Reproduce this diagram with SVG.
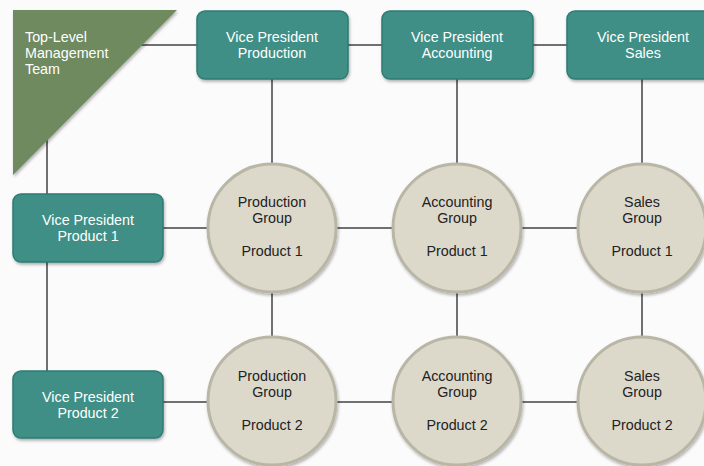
<svg xmlns="http://www.w3.org/2000/svg" width="704" height="466" viewBox="0 0 704 466">
<style>
.bg{fill:#fbfbfb}
.conn line{stroke:#707070;stroke-width:2}
.box{fill:#3f8f86;stroke:#2f7b73;stroke-width:1.5}
.circ{fill:#dcd9cb;stroke:#b9b6a6;stroke-width:3}
.tri{fill:#6f8a5f}
text{font-family:"Liberation Sans",Arial,sans-serif;font-size:14.3px}
.wt{fill:#ffffff;text-anchor:middle}
.dt{fill:#222222;text-anchor:middle}
.tl{fill:#ffffff}
</style>
<defs>
<filter id="sh" x="-20%" y="-20%" width="140%" height="150%">
<feDropShadow dx="1" dy="2" stdDeviation="1.5" flood-color="#000" flood-opacity="0.3"/>
</filter>
</defs>
<rect class="bg" x="0" y="0" width="704" height="466"/>
<g id="connectors" class="conn">
<line x1="130" y1="45" x2="567" y2="45"/>
<line x1="47" y1="130" x2="47" y2="402"/>
<line x1="272" y1="60" x2="272" y2="401"/>
<line x1="457" y1="60" x2="457" y2="401"/>
<line x1="642" y1="60" x2="642" y2="401"/>
<line x1="100" y1="228" x2="642" y2="228"/>
<line x1="100" y1="402" x2="642" y2="402"/>
</g>
<g id="top-level">
<polygon class="tri" points="13,10 177,10 13,175" filter="url(#sh)"/>
<text class="tl"><tspan x="25" y="42">Top-Level</tspan><tspan x="25" y="58">Management</tspan><tspan x="25" y="74">Team</tspan></text>
</g>
<g id="vp-production">
<rect class="box" x="197" y="11" width="151" height="68" rx="8" filter="url(#sh)"/>
<text class="wt"><tspan x="272" y="42">Vice President</tspan><tspan x="272" y="58">Production</tspan></text>
</g>
<g id="vp-accounting">
<rect class="box" x="382" y="11" width="151" height="68" rx="8" filter="url(#sh)"/>
<text class="wt"><tspan x="457" y="42">Vice President</tspan><tspan x="457" y="58">Accounting</tspan></text>
</g>
<g id="vp-sales">
<rect class="box" x="567" y="11" width="151" height="68" rx="8" filter="url(#sh)"/>
<text class="wt"><tspan x="643" y="42">Vice President</tspan><tspan x="643" y="58">Sales</tspan></text>
</g>
<g id="vp-product1">
<rect class="box" x="13" y="194" width="150" height="68" rx="8" filter="url(#sh)"/>
<text class="wt"><tspan x="88" y="225">Vice President</tspan><tspan x="88" y="241">Product 1</tspan></text>
</g>
<g id="vp-product2">
<rect class="box" x="13" y="371" width="150" height="67" rx="8" filter="url(#sh)"/>
<text class="wt"><tspan x="88" y="402">Vice President</tspan><tspan x="88" y="418">Product 2</tspan></text>
</g>
<g id="prod-p1">
<circle class="circ" cx="272" cy="228" r="64" filter="url(#sh)"/>
<text class="dt"><tspan x="272" y="207">Production</tspan><tspan x="272" y="223">Group</tspan><tspan x="272" y="256">Product 1</tspan></text>
</g>
<g id="acct-p1">
<circle class="circ" cx="457" cy="228" r="64" filter="url(#sh)"/>
<text class="dt"><tspan x="457" y="207">Accounting</tspan><tspan x="457" y="223">Group</tspan><tspan x="457" y="256">Product 1</tspan></text>
</g>
<g id="sales-p1">
<circle class="circ" cx="642" cy="228" r="64" filter="url(#sh)"/>
<text class="dt"><tspan x="642" y="207">Sales</tspan><tspan x="642" y="223">Group</tspan><tspan x="642" y="256">Product 1</tspan></text>
</g>
<g id="prod-p2">
<circle class="circ" cx="272" cy="401" r="64" filter="url(#sh)"/>
<text class="dt"><tspan x="272" y="381">Production</tspan><tspan x="272" y="397">Group</tspan><tspan x="272" y="430">Product 2</tspan></text>
</g>
<g id="acct-p2">
<circle class="circ" cx="457" cy="401" r="64" filter="url(#sh)"/>
<text class="dt"><tspan x="457" y="381">Accounting</tspan><tspan x="457" y="397">Group</tspan><tspan x="457" y="430">Product 2</tspan></text>
</g>
<g id="sales-p2">
<circle class="circ" cx="642" cy="401" r="64" filter="url(#sh)"/>
<text class="dt"><tspan x="642" y="381">Sales</tspan><tspan x="642" y="397">Group</tspan><tspan x="642" y="430">Product 2</tspan></text>
</g>
</svg>
